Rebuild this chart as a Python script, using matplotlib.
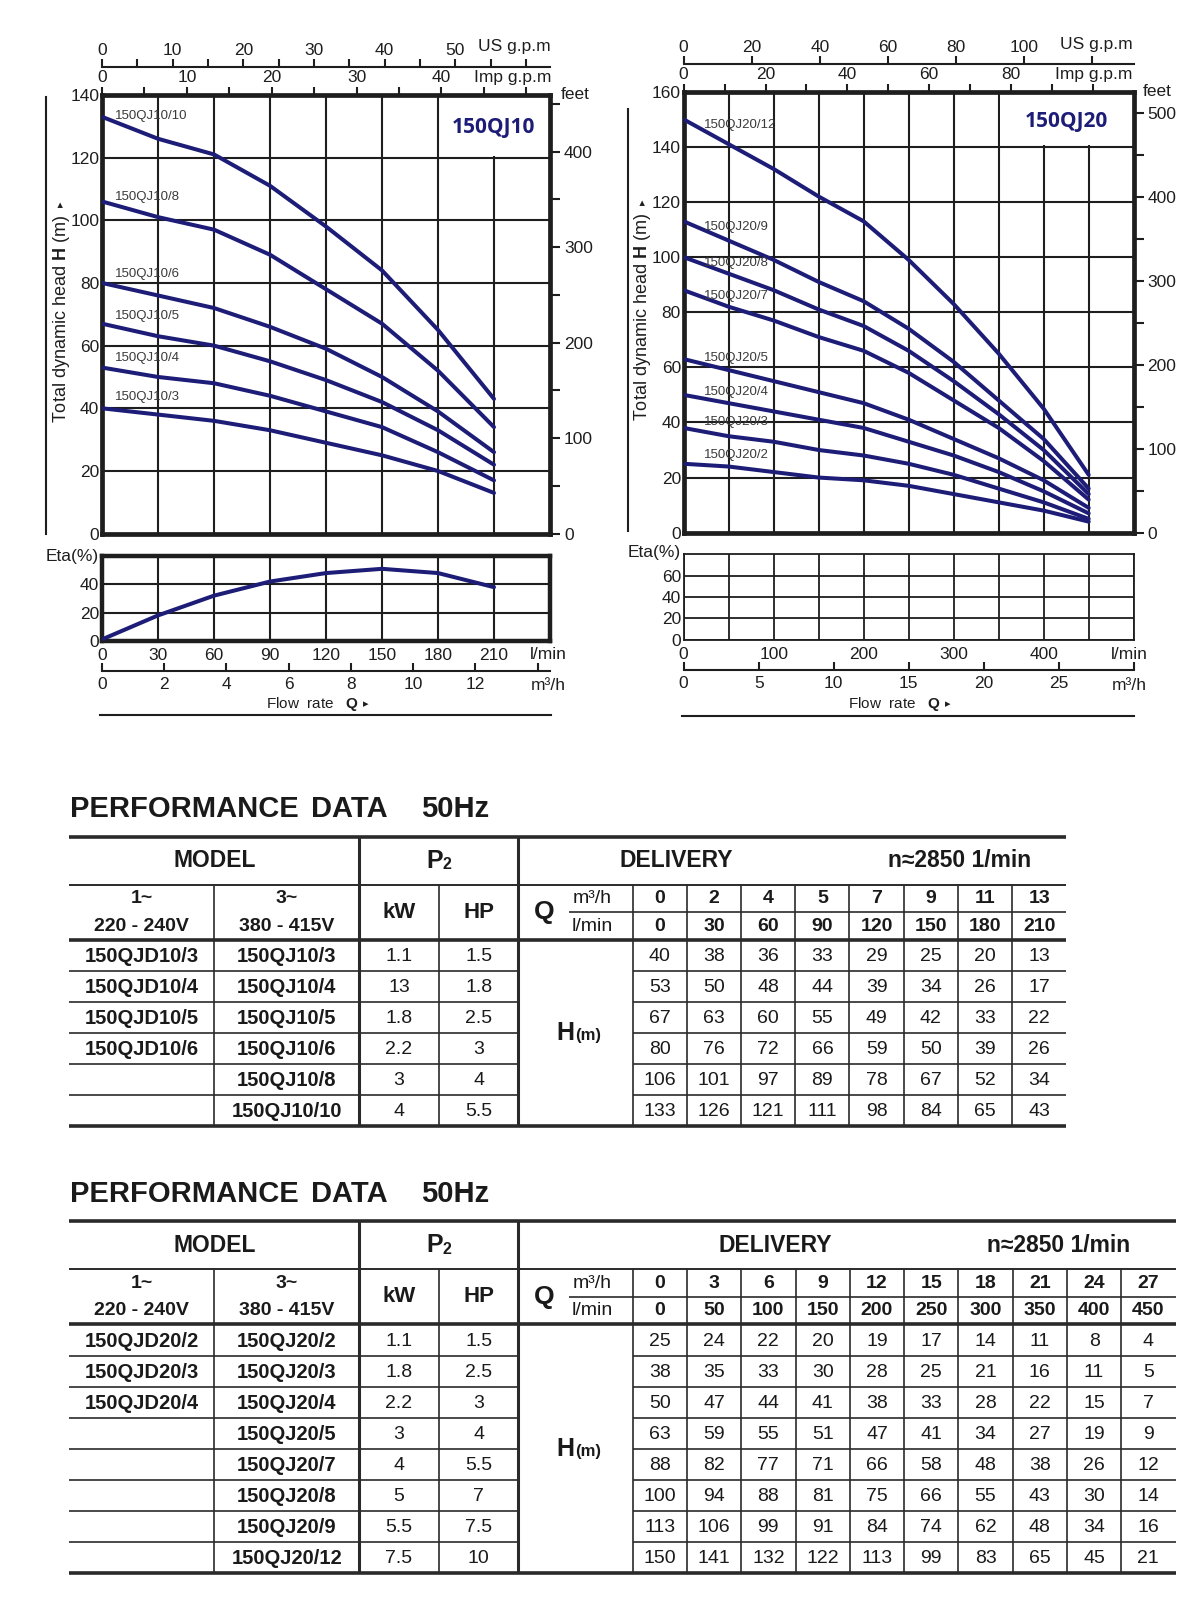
import numpy as np
import matplotlib.pyplot as plt
from matplotlib.patches import Rectangle

W, H = 1200, 1599
S = 1 / 0.98            # layout below is measured on a 0.98-scaled view of the sheet
Wd, Hd = W / S, H / S
NAVY = '#1d1d78'
INK = '#1e1e1e'

IMP_GPM = 4.54609
US_GPM = 3.78541
FT_PER_M = 3.28084

# ---- 150QJ10 ----
qj10_m3h = [0, 2, 4, 5, 7, 9, 11, 13]
qj10_lmin = [0, 30, 60, 90, 120, 150, 180, 210]
qj10_single = ['150QJD10/3', '150QJD10/4', '150QJD10/5', '150QJD10/6', '', '']
qj10_models = ['150QJ10/3', '150QJ10/4', '150QJ10/5', '150QJ10/6', '150QJ10/8', '150QJ10/10']
qj10_kw = ['1.1', '13', '1.8', '2.2', '3', '4']
qj10_hp = ['1.5', '1.8', '2.5', '3', '4', '5.5']
qj10_head = [
    [40, 38, 36, 33, 29, 25, 20, 13],
    [53, 50, 48, 44, 39, 34, 26, 17],
    [67, 63, 60, 55, 49, 42, 33, 22],
    [80, 76, 72, 66, 59, 50, 39, 26],
    [106, 101, 97, 89, 78, 67, 52, 34],
    [133, 126, 121, 111, 98, 84, 65, 43],
]
qj10_eta = [1, 18, 32, 42, 48, 51, 48, 38]

# ---- 150QJ20 ----
qj20_m3h = [0, 3, 6, 9, 12, 15, 18, 21, 24, 27]
qj20_lmin = [0, 50, 100, 150, 200, 250, 300, 350, 400, 450]
qj20_single = ['150QJD20/2', '150QJD20/3', '150QJD20/4', '', '', '', '', '']
qj20_models = ['150QJ20/2', '150QJ20/3', '150QJ20/4', '150QJ20/5',
               '150QJ20/7', '150QJ20/8', '150QJ20/9', '150QJ20/12']
qj20_kw = ['1.1', '1.8', '2.2', '3', '4', '5', '5.5', '7.5']
qj20_hp = ['1.5', '2.5', '3', '4', '5.5', '7', '7.5', '10']
qj20_head = [
    [25, 24, 22, 20, 19, 17, 14, 11, 8, 4],
    [38, 35, 33, 30, 28, 25, 21, 16, 11, 5],
    [50, 47, 44, 41, 38, 33, 28, 22, 15, 7],
    [63, 59, 55, 51, 47, 41, 34, 27, 19, 9],
    [88, 82, 77, 71, 66, 58, 48, 38, 26, 12],
    [100, 94, 88, 81, 75, 66, 55, 43, 30, 14],
    [113, 106, 99, 91, 84, 74, 62, 48, 34, 16],
    [150, 141, 132, 122, 113, 99, 83, 65, 45, 21],
]

plt.rcParams['font.family'] = ['Liberation Sans', 'DejaVu Sans']
plt.rcParams['mathtext.fontset'] = 'custom'
plt.rcParams['mathtext.rm'] = 'Liberation Sans'
plt.rcParams['mathtext.bf'] = 'Liberation Sans:bold'
TFONT = ['Liberation Sans', 'DejaVu Sans']

fig = plt.figure(figsize=(W / 100, H / 100), dpi=100)
ov = fig.add_axes([0, 0, 1, 1])
ov.set_xlim(0, Wd)
ov.set_ylim(Hd, 0)
ov.axis('off')


def px_axes(x0, y0, x1, y1):
    return fig.add_axes([x0 / Wd, 1 - y1 / Hd, (x1 - x0) / Wd, (y1 - y0) / Hd])


def labs(ticks, keep):
    return [f'{t:g}' if t in keep else '' for t in ticks]


def pump_chart(box, eta_box, lmin, heads, models, title, xmax, grid_step, lab_step, lab_max,
               ymax, ft_ticks, ft_keep, us_ticks, us_keep, imp_ticks, imp_keep,
               m3h_ticks, m3h_keep, eta_max, eta_lw, label_x, label_dy, title_xy, title_cell,
               eta=None):
    x0, y0, x1, y1 = box
    ax = px_axes(*box)
    ax.set_xlim(0, xmax)
    ax.set_ylim(0, ymax)
    ax.set_axisbelow(True)
    ax.set_xticks(np.arange(0, xmax + 1, grid_step))
    ax.set_yticks(np.arange(0, ymax + 1, 20))
    ax.grid(True, color=INK, lw=1.5)
    ax.tick_params(axis='x', length=0, labelbottom=False)
    ax.tick_params(axis='y', length=0, labelsize=12.5, pad=2, colors=INK)
    for s in ax.spines.values():
        s.set_linewidth(3.4)
        s.set_color(INK)
    # blank cell behind the model title
    dx = 1.6 * xmax / ((x1 - x0) * S)
    dy = 1.6 * ymax / ((y1 - y0) * S)
    cx, cy = title_cell
    ax.add_patch(Rectangle((cx + dx, cy + dy), xmax - cx, ymax - cy, facecolor='white',
                           edgecolor='none', zorder=1))
    for name, h, off in zip(models, heads, label_dy):
        ax.plot(lmin, h, color=NAVY, lw=2.9, solid_capstyle='round', zorder=3)
        ax.text(label_x, h[0] + off, name, fontsize=9.5, color='#3a3a3a',
                va='center', zorder=4)
    ax.text(*title_xy, title, transform=ax.transAxes, fontsize=15, fontweight='bold',
            color=NAVY, ha='center', va='center', family=['Open Sans', 'DejaVu Sans'], zorder=4)

    ft = ax.secondary_yaxis('right', functions=(lambda m: m * FT_PER_M, lambda f: f / FT_PER_M))
    ft.set_yticks(ft_ticks, labels=labs(ft_ticks, ft_keep))
    ft.tick_params(length=7, width=1.5, labelsize=12.5, colors=INK, pad=3)
    for s in ft.spines.values():
        s.set_visible(False)

    imp = ax.secondary_xaxis('top', functions=(lambda q: q / IMP_GPM, lambda g: g * IMP_GPM))
    imp.set_xticks(imp_ticks, labels=labs(imp_ticks, imp_keep))
    imp.tick_params(direction='out', length=6, width=1.5, labelsize=12.5, pad=1, colors=INK)
    for s in imp.spines.values():
        s.set_visible(False)

    us = ax.secondary_xaxis(1 + 27 / (y1 - y0), functions=(lambda q: q / US_GPM, lambda g: g * US_GPM))
    us.set_xticks(us_ticks, labels=labs(us_ticks, us_keep))
    us.tick_params(direction='out', length=6, width=1.5, labelsize=12.5, pad=1, colors=INK)
    for s in us.spines.values():
        s.set_linewidth(1.5)
        s.set_color(INK)

    ex0, ey0, ex1, ey1 = eta_box
    ea = px_axes(*eta_box)
    ea.set_xlim(0, xmax)
    ea.set_ylim(0, eta_max)
    major = np.arange(0, xmax + 1, lab_step)
    ea.set_xticks(major, labels=[f'{v:g}' if v <= lab_max else '' for v in major])
    ea.set_xticks(np.arange(0, xmax + 1, grid_step), minor=True)
    ea.set_yticks(np.arange(0, eta_max, 20))
    ea.grid(True, which='both', color=INK, lw=1.3 if eta_lw < 2 else 1.5)
    ea.tick_params(axis='x', which='both', length=0, pad=5, labelsize=12.5, colors=INK)
    ea.tick_params(axis='y', length=0, pad=2, labelsize=12.5, colors=INK)
    for s in ea.spines.values():
        s.set_linewidth(eta_lw)
        s.set_color(INK)
    if eta is not None:
        ea.plot(lmin, eta, color=NAVY, lw=2.9, solid_capstyle='round', zorder=3)

    mh = ea.secondary_xaxis(-30 / (ey1 - ey0), functions=(lambda q: q * 0.06, lambda m: m / 0.06))
    mh.set_xticks(m3h_ticks, labels=labs(m3h_ticks, m3h_keep))
    mh.tick_params(direction='in', length=6, width=1.5, labelsize=12.5, pad=4, colors=INK)
    for s in mh.spines.values():
        s.set_linewidth(1.5)
        s.set_color(INK)
    return ax


pump_chart((100, 93, 539, 523), (100, 545, 539, 628), qj10_lmin, qj10_head, qj10_models, '150QJ10',
           xmax=240, grid_step=30, lab_step=30, lab_max=210, ymax=140,
           ft_ticks=list(range(0, 451, 50)), ft_keep=list(range(0, 401, 100)),
           us_ticks=list(range(0, 61, 5)), us_keep=list(range(0, 51, 10)),
           imp_ticks=list(range(0, 51, 5)), imp_keep=list(range(0, 41, 10)),
           m3h_ticks=list(range(0, 15, 2)), m3h_keep=list(range(0, 13, 2)),
           eta_max=60, eta_lw=3.2, label_x=7, label_dy=[3.7, 3.1, 2.5, 2.9, 1.4, 0.2],
           title_xy=(0.874, 0.926), title_cell=(180, 120), eta=qj10_eta)

pump_chart((670, 90, 1111, 522), (670, 543, 1111, 627), qj20_lmin, qj20_head, qj20_models, '150QJ20',
           xmax=500, grid_step=50, lab_step=100, lab_max=400, ymax=160,
           ft_ticks=list(range(0, 501, 50)), ft_keep=list(range(0, 501, 100)),
           us_ticks=list(range(0, 121, 20)), us_keep=list(range(0, 101, 20)),
           imp_ticks=list(range(0, 101, 10)), imp_keep=list(range(0, 81, 20)),
           m3h_ticks=list(range(0, 31, 5)), m3h_keep=list(range(0, 26, 5)),
           eta_max=80, eta_lw=1.3, label_x=22,
           label_dy=[3.1, 2.0, 1.1, 0.3, -2.1, -2.2, -1.9, -2.2],
           title_xy=(0.85, 0.933), title_cell=(350, 140))

# chart decorations (positions in the scaled view)
renderer = fig.canvas.get_renderer()
for cx, top_us, top_imp, feet_x, feet_y, ylab_x, ylab_y, vline, hline, eta_xy, flow_x in [
    (540, 46, 76, 550, 93, 60, 415, (45, 95, 523), (98, 540, 701), (97, 545), 352),
    (1110, 44, 73, 1120, 90, 630, 413, (615, 107, 520), (668, 1111, 702), (667, 541), 922),
]:
    ov.text(cx, top_us, 'US g.p.m', ha='right', va='center', fontsize=12.5, color=INK)
    ov.text(cx, top_imp, 'Imp g.p.m', ha='right', va='center', fontsize=12.5, color=INK)
    ov.text(feet_x, feet_y, 'feet', ha='left', va='center', fontsize=12.5, color=INK)
    ov.text(cx - 3, 641, 'l/min', ha='center', va='center', fontsize=12.5, color=INK)
    ov.text(cx - 3, 672, 'm³/h', ha='center', va='center', fontsize=12.5, color=INK)
    ov.text(flow_x, 690, r'Flow  rate   $\mathbf{Q}$', ha='right', va='center',
            fontsize=11, color=INK)
    ov.text(flow_x + 4, 690, '▸', ha='left', va='center', fontsize=8,
            color=INK, family=['DejaVu Sans'])
    ov.text(*eta_xy, 'Eta(%)', ha='right', va='center', fontsize=12.5, color=INK)
    yl = ov.text(ylab_x, ylab_y, r'Total dynamic head $\mathbf{H}$ (m)', rotation=90,
                 rotation_mode='anchor', ha='left', va='center', fontsize=13, color=INK)
    bb = yl.get_window_extent(renderer)
    top_y = ov.transData.inverted().transform((bb.x0, bb.y1))[1]
    ov.text(ylab_x, top_y - 8, '▸', rotation=90, rotation_mode='anchor', ha='left',
            va='center', fontsize=8, color=INK, family=['DejaVu Sans'])
    ov.plot([vline[0], vline[0]], [vline[1], vline[2]], color=INK, lw=1.5)
    ov.plot([hline[0], hline[1]], [hline[2], hline[2]], color=INK, lw=1.5)


def perf_table(top, m3h, lmin, single, triple, kw, hp, heads, right, deliv_x, speed_x):
    xl, xa, xb, xc, xd, xe = 68, 210, 352, 430, 508, 620
    y1, y2, y3 = top + 47, top + 74, top + 101
    rh = 30.4
    n = len(heads)
    bottom = y3 + n * rh
    ncol = len(m3h)
    cw = (right - xe) / ncol
    lc = '#2a2a2a'
    tk = dict(family=TFONT, color='#1a1a1a', ha='center', va='center')

    for word, wx in [('PERFORMANCE', 68.6), ('DATA', 305), ('50Hz', 413)]:
        ov.text(wx, top - 27, word, fontsize=21, fontweight='bold', family=TFONT,
                color='#1a1a1a', ha='left', va='center')

    ov.hlines([top, y3, bottom], xl, right, color=lc, lw=2.6)
    ov.hlines(y1, xl, right, color=lc, lw=1.4)
    ov.hlines(y2, 558, right, color=lc, lw=1.2)
    for i in range(1, n):
        y = y3 + i * rh
        ov.hlines(y, xl, xd, color=lc, lw=1.2)
        ov.hlines(y, xe, right, color=lc, lw=1.2)
    ov.vlines([xb, xd], top, bottom, color=lc, lw=2.2)
    ov.vlines([xa, xc, xe], y1, bottom, color=lc, lw=1.2)
    ov.vlines([xe + j * cw for j in range(1, ncol)], y1, bottom, color=lc, lw=1.2)

    yh = (top + y1) / 2
    ov.text((xl + xb) / 2, yh, 'MODEL', fontsize=16.5, fontweight='bold', **tk)
    ov.text((xb + xd) / 2 - 4, yh, 'P', fontsize=18, fontweight='bold', **tk)
    ov.text((xb + xd) / 2 + 8, yh + 4, '2', fontsize=11.5, fontweight='bold', **tk)
    ov.text(deliv_x, yh, 'DELIVERY', fontsize=16.5, fontweight='bold', **tk)
    ov.text(speed_x, yh, 'n≈2850 1/min', fontsize=16.5, fontweight='bold', **tk)

    ym1, ym2 = (y1 + y2) / 2, (y2 + y3) / 2
    ov.text((xl + xa) / 2, ym1, '1~', fontsize=14, fontweight='bold', **tk)
    ov.text((xl + xa) / 2, ym2, '220 - 240V', fontsize=14, fontweight='bold', **tk)
    ov.text((xa + xb) / 2, ym1, '3~', fontsize=14, fontweight='bold', **tk)
    ov.text((xa + xb) / 2, ym2, '380 - 415V', fontsize=14, fontweight='bold', **tk)
    ov.text((xb + xc) / 2, (y1 + y3) / 2, 'kW', fontsize=16, fontweight='bold', **tk)
    ov.text((xc + xd) / 2, (y1 + y3) / 2, 'HP', fontsize=16, fontweight='bold', **tk)
    ov.text(533, (y1 + y3) / 2, 'Q', fontsize=19, fontweight='bold', **tk)
    ov.text(580, ym1, 'm³/h', fontsize=14, **tk)
    ov.text(580, ym2, 'l/min', fontsize=14, **tk)
    for j in range(ncol):
        cx = xe + (j + 0.5) * cw
        ov.text(cx, ym1, f'{m3h[j]}', fontsize=14, fontweight='bold', **tk)
        ov.text(cx, ym2, f'{lmin[j]}', fontsize=14, fontweight='bold', **tk)

    ymid = (y3 + bottom) / 2
    ov.text(563, ymid, 'H', fontsize=18, fontweight='bold', family=TFONT, color='#1a1a1a',
            ha='right', va='center')
    ov.text(564, ymid + 3, '(m)', fontsize=12, fontweight='bold', family=TFONT, color='#1a1a1a',
            ha='left', va='center')

    for i in range(n):
        cy = y3 + (i + 0.5) * rh + 1
        ov.text((xl + xa) / 2, cy, single[i], fontsize=14.5, fontweight='bold', **tk)
        ov.text((xa + xb) / 2, cy, triple[i], fontsize=14.5, fontweight='bold', **tk)
        ov.text((xb + xc) / 2, cy, kw[i], fontsize=14, **tk)
        ov.text((xc + xd) / 2, cy, hp[i], fontsize=14, **tk)
        for j in range(ncol):
            ov.text(xe + (j + 0.5) * cw, cy, f'{heads[i][j]}', fontsize=14, **tk)


perf_table(820, qj10_m3h, qj10_lmin, qj10_single, qj10_models, qj10_kw, qj10_hp, qj10_head,
           1045, 663, 940)
perf_table(1197, qj20_m3h, qj20_lmin, qj20_single, qj20_models, qj20_kw, qj20_hp, qj20_head,
           1152, 760, 1037)

fig.savefig('out.png', dpi=100)
